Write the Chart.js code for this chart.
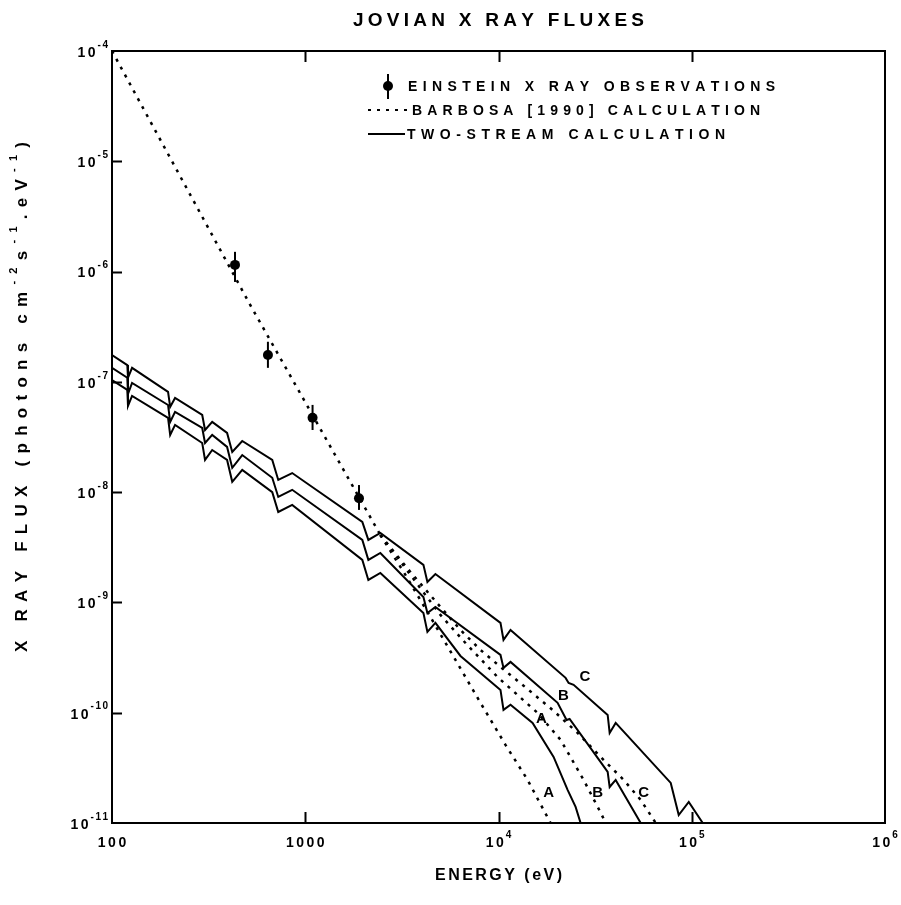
<!DOCTYPE html>
<html lang="en">
<head>
    <meta charset="UTF-8">
    <title>Jovian X Ray Fluxes</title>
    <script src="https://cdn.jsdelivr.net/npm/chart.js"></script>
    <style>
        body {
            margin: 0;
            background: #fff;
        }
        #wrap {
            width: 901px;
            height: 905px;
        }
    </style>
</head>
<body>
    <div id="wrap"><canvas id="fluxChart" width="901" height="905"></canvas></div>

    <script>
        // Einstein observations (eV, photons cm-2 s-1 eV-1)
        const obsEnergy = [433, 641, 1091, 1897];
        const obsFlux = [1.15e-6, 1.75e-7, 4.73e-8, 8.81e-9];
        const obsFluxLo = [8.05e-7, 1.34e-7, 3.66e-8, 6.9e-9];
        const obsFluxHi = [1.51e-6, 2.31e-7, 6.18e-8, 1.16e-8];

        // Barbosa [1990] - common part, then the three branches
        const barbosaE = [100, 519, 2447];
        const barbosaF = [1e-4, 4.98e-7, 4.09e-9];
        const barbosaA_E = [2447, 3298, 4442, 5988, 8067, 10870, 14140, 18600];
        const barbosaA_F = [4.09e-9, 1.78e-9, 7.39e-10, 3.01e-10, 1.23e-10, 5.11e-11, 2.46e-11, 1.0e-11];
        const barbosaB_E = [2447, 3499, 5006, 6745, 9881, 15930, 20960, 27570, 33780, 35850];
        const barbosaB_F = [4.09e-9, 1.78e-9, 7.70e-10, 4.29e-10, 2.11e-10, 9.96e-11, 5.67e-11, 2.46e-11, 1.24e-11, 1.0e-11];
        const barbosaC_E = [2447, 3499, 5006, 6357, 8067, 10240, 14140, 19280, 25670, 33780, 44420, 54430, 65110];
        const barbosaC_F = [4.09e-9, 1.89e-9, 9.10e-10, 5.63e-10, 3.71e-10, 2.60e-10, 1.64e-10, 1.04e-10, 6.56e-11, 3.97e-11, 2.46e-11, 1.62e-11, 1.0e-11];

        // two-stream calculation A, B, C
        const streamC_E = [100, 120, 121, 127, 195, 200, 212, 293, 303, 330, 394, 419, 472, 675, 725, 856, 1974, 2121, 2447,
            4088, 4287, 4716, 10240, 10614, 11540, 22240, 23060, 24470, 36720, 37600, 40390, 77850, 85630, 96500, 114000];
        const streamC_F = [1.75e-7, 1.42e-7, 1.09e-7, 1.34e-7, 8.10e-8, 5.92e-8, 7.14e-8, 5.01e-8, 3.66e-8, 4.33e-8, 3.44e-8, 2.31e-8, 2.91e-8,
            1.96e-8, 1.29e-8, 1.49e-8, 5.37e-9, 3.69e-9, 4.27e-9, 2.19e-9, 1.53e-9, 1.81e-9, 6.52e-10, 4.57e-10, 5.63e-10,
            2.07e-10, 1.86e-10, 1.79e-10, 9.55e-11, 6.56e-11, 8.08e-11, 2.31e-11, 1.18e-11, 1.55e-11, 1.0e-11];
        const streamB_E = [100, 120, 121, 127, 195, 200, 212, 293, 303, 330, 394, 419, 472, 675, 725, 856, 1974, 2121, 2447,
            4088, 4287, 4716, 10240, 10614, 11540, 20220, 22500, 23330, 32580, 36720, 37600, 40390, 54430];
        const streamB_F = [1.34e-7, 1.09e-7, 7.77e-8, 9.77e-8, 6.17e-8, 4.33e-8, 5.34e-8, 3.82e-8, 2.79e-8, 3.30e-8, 2.57e-8, 1.66e-8, 2.17e-8,
            1.35e-8, 9.05e-9, 1.05e-8, 3.69e-9, 2.43e-9, 2.81e-9, 1.12e-9, 8.03e-10, 9.10e-10, 3.34e-10, 2.55e-10, 2.89e-10,
            1.23e-10, 8.60e-11, 8.78e-11, 3.89e-11, 2.91e-11, 2.12e-11, 2.46e-11, 1.0e-11];
        const streamA_E = [100, 120, 121, 127, 195, 200, 212, 293, 303, 330, 394, 419, 472, 675, 725, 856, 1974, 2121, 2447,
            4088, 4287, 4716, 6357, 10240, 10614, 11540, 15010, 19280, 22780, 25060, 26600];
        const streamA_F = [1.04e-7, 8.45e-8, 6.05e-8, 7.45e-8, 4.71e-8, 3.30e-8, 4.07e-8, 2.79e-8, 1.96e-8, 2.41e-8, 1.96e-8, 1.24e-8, 1.59e-8,
            1.00e-8, 6.61e-9, 7.66e-9, 2.43e-9, 1.60e-9, 1.85e-9, 8.03e-10, 5.40e-10, 6.52e-10, 3.27e-10, 1.61e-10, 1.06e-10, 1.18e-10,
            8.08e-11, 3.97e-11, 2.00e-11, 1.40e-11, 1.0e-11];

        // curve letters (solid C, B, A then dotted A, B, C)
        const curveLabelText = ['C', 'B', 'A', 'A', 'B', 'C'];
        const curveLabelE = [28000, 21700, 16700, 18160, 32580, 56400];
        const curveLabelF = [2.1e-10, 1.42e-10, 8.8e-11, 1.87e-11, 1.87e-11, 1.87e-11];

        // axis ticks
        const xTickValues = [100, 1000, 1e4, 1e5, 1e6];
        const xTickBase = ['100', '1000', '10', '10', '10'];
        const xTickExp = ['', '', '4', '5', '6'];
        const yTickValues = [1e-4, 1e-5, 1e-6, 1e-7, 1e-8, 1e-9, 1e-10, 1e-11];
        const yTickExp = ['-4', '-5', '-6', '-7', '-8', '-9', '-10', '-11'];

        const FONT = '"Liberation Sans", Arial, Helvetica, sans-serif';

        function toPoints(xs, ys) {
            return xs.map((v, i) => ({ x: v, y: ys[i] }));
        }

        function textWidth(ctx, text) {
            let w = 0;
            for (const ch of text) w += ctx.measureText(ch).width;
            return w;
        }

        // draws text char by char with extra spacing, returns the width used
        function drawSpaced(ctx, text, x, y, spacing, align) {
            const w = textWidth(ctx, text) + spacing * (text.length - 1);
            let cx = align === 'center' ? x - w / 2 : align === 'right' ? x - w : x;
            ctx.textAlign = 'left';
            for (const ch of text) {
                ctx.fillText(ch, cx, y);
                cx += ctx.measureText(ch).width + spacing;
            }
            return w;
        }

        function fitted(ctx, text, x, y, target, align) {
            const sp = (target - textWidth(ctx, text)) / (text.length - 1);
            return drawSpaced(ctx, text, x, y, sp, align);
        }

        // "10" with a raised exponent
        function drawPow(ctx, base, exp, x, y, align) {
            ctx.font = 'bold 14px ' + FONT;
            const wb = textWidth(ctx, base) + 2.5 * (base.length - 1);
            ctx.font = 'bold 10px ' + FONT;
            const we = exp ? textWidth(ctx, exp) + 1.5 * (exp.length - 1) + 2 : 0;
            const total = wb + we;
            let x0 = align === 'right' ? x - total : x - total / 2;
            ctx.font = 'bold 14px ' + FONT;
            drawSpaced(ctx, base, x0, y, 2.5, 'left');
            if (exp) {
                ctx.font = 'bold 10px ' + FONT;
                drawSpaced(ctx, exp, x0 + wb + 2, y - 8, 1.5, 'left');
            }
        }

        const decorations = {
            id: 'decorations',
            afterDatasetsDraw(chart) {
                const { ctx, chartArea: a, scales: { x, y } } = chart;
                ctx.save();
                ctx.fillStyle = '#000';
                ctx.strokeStyle = '#000';

                // error bars on the observations
                ctx.lineWidth = 2;
                obsEnergy.forEach((e, i) => {
                    const px = x.getPixelForValue(e);
                    ctx.beginPath();
                    ctx.moveTo(px, y.getPixelForValue(obsFluxHi[i]));
                    ctx.lineTo(px, y.getPixelForValue(obsFluxLo[i]));
                    ctx.stroke();
                });

                // frame
                ctx.lineWidth = 2;
                ctx.strokeRect(a.left, a.top, a.right - a.left, a.bottom - a.top);

                // ticks
                ctx.beginPath();
                xTickValues.slice(1, -1).forEach(v => {
                    const px = Math.round(x.getPixelForValue(v)) + 0.5;
                    ctx.moveTo(px, a.bottom); ctx.lineTo(px, a.bottom - 11);
                    ctx.moveTo(px, a.top); ctx.lineTo(px, a.top + 11);
                });
                yTickValues.slice(1, -1).forEach(v => {
                    const py = Math.round(y.getPixelForValue(v)) + 0.5;
                    ctx.moveTo(a.left, py); ctx.lineTo(a.left + 10, py);
                });
                ctx.stroke();

                // tick labels
                ctx.textBaseline = 'middle';
                xTickValues.forEach((v, i) => {
                    drawPow(ctx, xTickBase[i], xTickExp[i], x.getPixelForValue(v), a.bottom + 20, 'center');
                });
                yTickValues.forEach((v, i) => {
                    drawPow(ctx, '10', yTickExp[i], a.left - 4, y.getPixelForValue(v) + 2, 'right');
                });

                // curve letters
                ctx.font = 'bold 15px ' + FONT;
                ctx.textAlign = 'center';
                curveLabelText.forEach((t, i) => {
                    ctx.fillText(t, x.getPixelForValue(curveLabelE[i]), y.getPixelForValue(curveLabelF[i]));
                });

                // title and axis titles
                ctx.font = 'bold 19px ' + FONT;
                fitted(ctx, 'JOVIAN X RAY FLUXES', (a.left + a.right) / 2, 21, 291, 'center');
                ctx.font = 'bold 16px ' + FONT;
                fitted(ctx, 'ENERGY (eV)', (a.left + a.right) / 2, 876, 127, 'center');

                // rotated y title with superscripts
                const segs = [['X RAY FLUX (photons cm', false], ['-2', true], ['s', false], ['-1', true],
                    ['.eV', false], ['-1', true], [')', false]];
                let raw = 0, n = 0;
                segs.forEach(([t, sup]) => {
                    ctx.font = (sup ? 'bold 11px ' : 'bold 17px ') + FONT;
                    raw += textWidth(ctx, t);
                    n += t.length;
                });
                const sp = (510 - raw) / (n - 1);
                ctx.save();
                ctx.translate(22, 397);
                ctx.rotate(-Math.PI / 2);
                let cx = -(raw + sp * (n - 1)) / 2;
                ctx.textAlign = 'left';
                segs.forEach(([t, sup]) => {
                    ctx.font = (sup ? 'bold 11px ' : 'bold 17px ') + FONT;
                    for (const ch of t) {
                        ctx.fillText(ch, cx, sup ? -8 : 0);
                        cx += ctx.measureText(ch).width + sp;
                    }
                });
                ctx.restore();

                // legend
                ctx.textAlign = 'left';
                ctx.lineWidth = 2;
                ctx.beginPath();
                ctx.arc(388, 86, 5, 0, Math.PI * 2);
                ctx.fill();
                ctx.beginPath();
                ctx.moveTo(388, 74); ctx.lineTo(388, 99);
                ctx.stroke();
                ctx.setLineDash([3, 6]);
                ctx.beginPath();
                ctx.moveTo(368, 110); ctx.lineTo(410, 110);
                ctx.stroke();
                ctx.setLineDash([]);
                ctx.beginPath();
                ctx.moveTo(368, 134); ctx.lineTo(405, 134);
                ctx.stroke();
                ctx.font = 'bold 14px ' + FONT;
                fitted(ctx, 'EINSTEIN X RAY OBSERVATIONS', 408, 87, 367, 'left');
                fitted(ctx, 'BARBOSA [1990] CALCULATION', 412, 111, 348, 'left');
                fitted(ctx, 'TWO-STREAM CALCULATION', 407, 135, 318, 'left');

                ctx.restore();
            }
        };

        const dotted = { borderColor: '#000', borderWidth: 2.5, borderDash: [3, 6], pointRadius: 0, showLine: true, fill: false };
        const solid = { borderColor: '#000', borderWidth: 2, pointRadius: 0, showLine: true, fill: false };

        const ctx = document.getElementById('fluxChart').getContext('2d');
        const fluxChart = new Chart(ctx, {
            type: 'scatter',
            data: {
                datasets: [
                    { label: 'Barbosa', data: toPoints(barbosaE, barbosaF), ...dotted },
                    { label: 'Barbosa A', data: toPoints(barbosaA_E, barbosaA_F), ...dotted },
                    { label: 'Barbosa B', data: toPoints(barbosaB_E, barbosaB_F), ...dotted },
                    { label: 'Barbosa C', data: toPoints(barbosaC_E, barbosaC_F), ...dotted },
                    { label: 'Two-stream A', data: toPoints(streamA_E, streamA_F), ...solid },
                    { label: 'Two-stream B', data: toPoints(streamB_E, streamB_F), ...solid },
                    { label: 'Two-stream C', data: toPoints(streamC_E, streamC_F), ...solid },
                    {
                        label: 'Einstein X ray observations',
                        data: toPoints(obsEnergy, obsFlux),
                        showLine: false,
                        pointRadius: 5,
                        pointBackgroundColor: '#000',
                        pointBorderColor: '#000',
                        pointBorderWidth: 0
                    }
                ]
            },
            options: {
                responsive: false,
                animation: false,
                layout: { padding: { left: 112, right: 16, top: 51, bottom: 82 } },
                elements: { line: { tension: 0 } },
                plugins: {
                    legend: { display: false },
                    tooltip: { enabled: false }
                },
                scales: {
                    x: { type: 'logarithmic', min: 100, max: 1e6, display: false },
                    y: { type: 'logarithmic', min: 1e-11, max: 1e-4, display: false }
                }
            },
            plugins: [decorations]
        });
    </script>
</body>
</html>
